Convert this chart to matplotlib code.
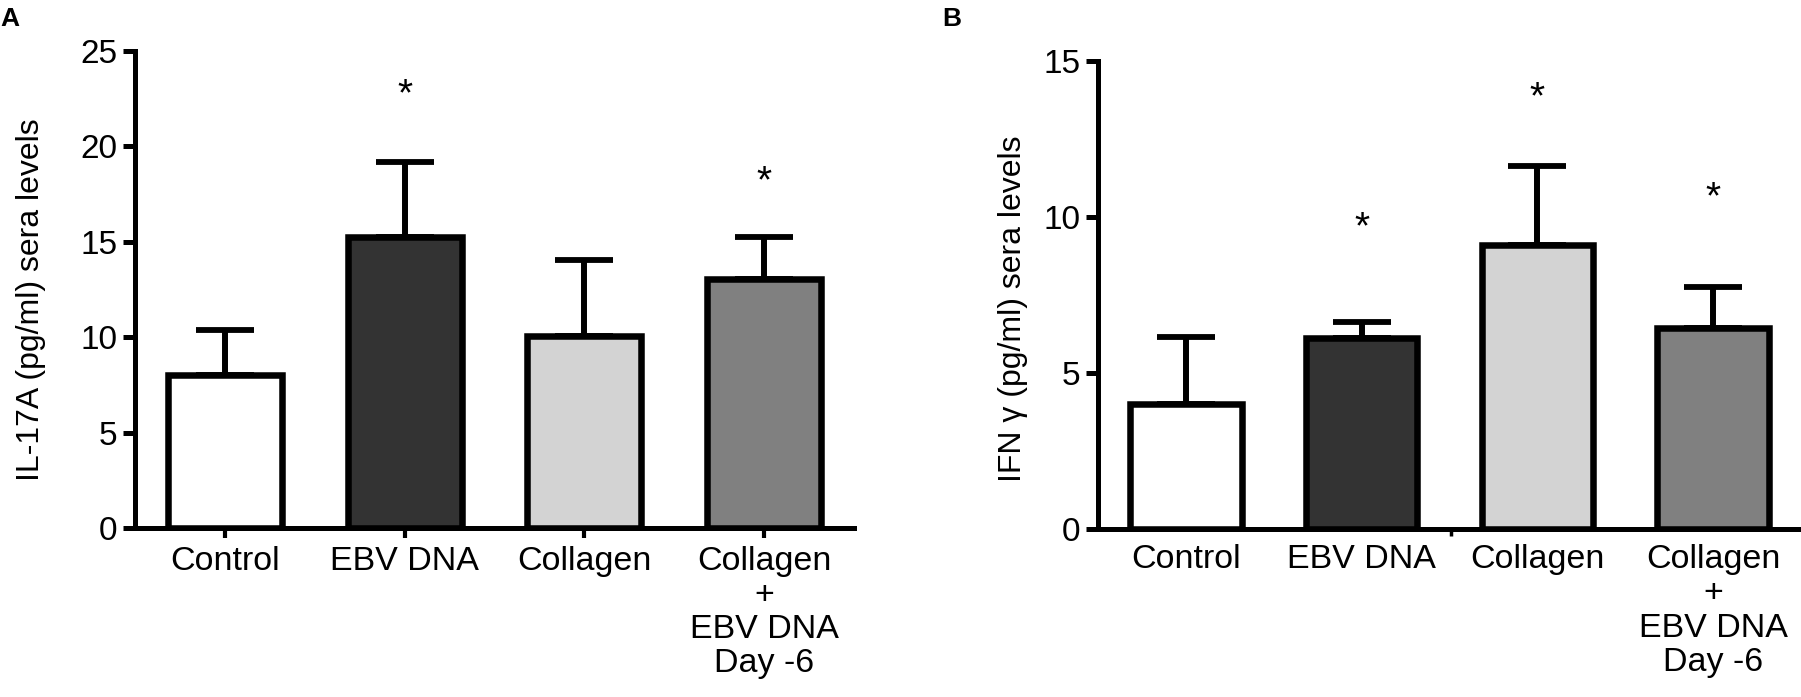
import numpy as np
import matplotlib
matplotlib.use('Agg')
import matplotlib.pyplot as plt

plt.rcParams['font.family'] = ['Liberation Sans', 'DejaVu Sans']

groups = ['Control', 'EBV DNA', 'Collagen', 'Collagen\n+\nEBV DNA\nDay -6']
colors = ['white', '#333333', '#d3d3d3', '#808080']

# panel A: IL-17A
il17_mean = [8.0, 15.25, 10.08, 13.07]
il17_err = [2.4, 3.95, 3.97, 2.18]
il17_star = [None, 22.7, None, 18.1]

# panel B: IFN gamma
ifn_mean = [4.0, 6.12, 9.1, 6.44]
ifn_err = [2.15, 0.51, 2.53, 1.32]
ifn_star = [None, 9.65, 13.8, 10.6]

fig = plt.figure(figsize=(18.01, 6.97), dpi=100)
axA = fig.add_axes([135/1801, 169/697, (854-135)/1801, (528-51)/697])
axB = fig.add_axes([1098/1801, 168/697, (1801-1098)/1801, (529-61)/697])


def draw(ax, mean, err, star, ymax, step, ylabel, xticks=True):
    x = np.arange(len(mean))
    ax.errorbar(x, mean, yerr=[np.zeros(len(err)), err], fmt='none', ecolor='black',
                elinewidth=4.3, capsize=21, capthick=4.2, zorder=1)
    ax.bar(x, mean, width=0.635, color=colors, edgecolor='black', linewidth=4.7, zorder=2)
    for i, s in enumerate(star):
        if s is not None:
            ax.text(x[i], s, '*', ha='center', va='center', fontsize=28)
    ax.set_xlim(-0.5, 3.5)
    ax.set_ylim(0, ymax)
    ax.set_yticks(np.arange(0, ymax + 1, step))
    ax.set_xticks(x)
    ax.set_xticklabels(groups, fontsize=24.5, linespacing=1.13)
    for side in ['top', 'right']:
        ax.spines[side].set_visible(False)
    for side in ['left', 'bottom']:
        ax.spines[side].set_linewidth(3.6)
    ax.tick_params(axis='y', length=8.6, width=3.6, labelsize=24, pad=4)
    if xticks:
        ax.tick_params(axis='x', length=7, width=3, pad=6)
    else:
        ax.tick_params(axis='x', length=0, pad=11)
    ax.set_ylabel(ylabel, fontsize=23)


draw(axA, il17_mean, il17_err, il17_star, 25, 5, 'IL-17A (pg/ml) sera levels')
axA.yaxis.set_label_coords(-0.124, 0.478)

draw(axB, ifn_mean, ifn_err, ifn_star, 15, 5, 'IFN \u03b3 (pg/ml) sera levels', xticks=False)
axB.set_xticks([1.51], minor=True)
axB.tick_params(axis='x', which='minor', length=5, width=2.5)
axB.yaxis.set_label_coords(-0.0996, 0.47)

fig.text(0.0, 0.99, 'A', fontsize=19, fontweight='bold', va='top', ha='left')
fig.text(942/1801, 0.99, 'B', fontsize=19, fontweight='bold', va='top', ha='left')

fig.savefig('out.png', dpi=100)
